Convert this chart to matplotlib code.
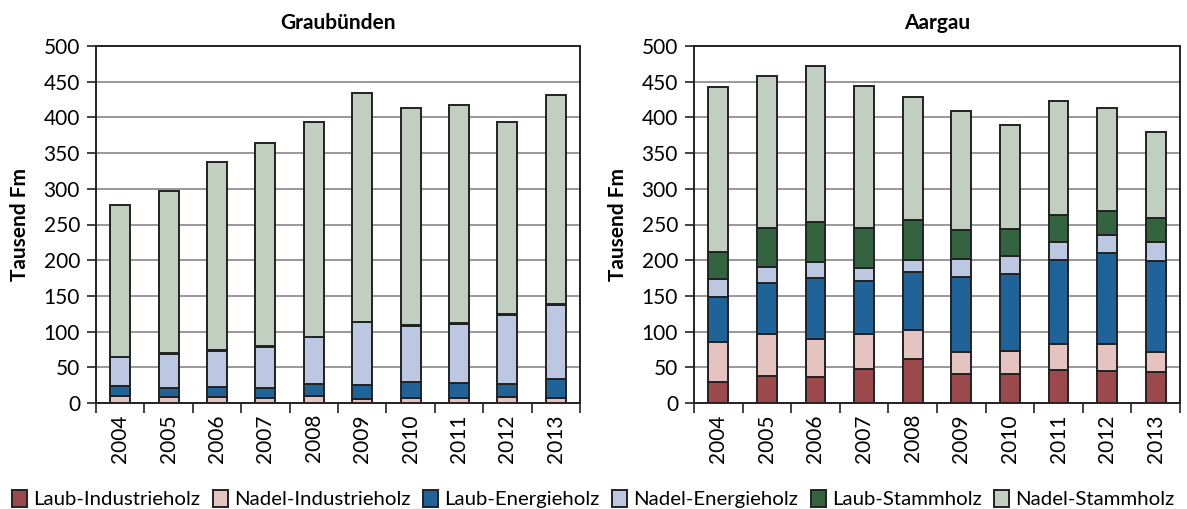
import numpy as np
import matplotlib.pyplot as plt

plt.rcParams['font.family'] = ['Lato', 'DejaVu Sans']

years = ["2004", "2005", "2006", "2007", "2008", "2009", "2010", "2011", "2012", "2013"]
series = ["Laub-Industrieholz", "Nadel-Industrieholz", "Laub-Energieholz",
          "Nadel-Energieholz", "Laub-Stammholz", "Nadel-Stammholz"]
colors = ["#9c494c", "#e4c3c0", "#1f6399", "#bcc8e1", "#33633f", "#c1cfc1"]

# Graubünden (Tausend Fm)
gr_li = [0, 0, 0, 0, 0, 0, 0, 0, 0, 0]
gr_ni = [10, 9, 9, 7, 10, 6, 7, 7, 8, 7]
gr_le = [14, 12, 14, 14, 17, 19, 22, 21, 19, 26]
gr_ne = [40, 48, 50, 58, 65, 88, 79, 83, 96, 104]
gr_ls = [1, 1, 1, 1, 1, 1, 1, 1, 1, 1]
gr_ns = [212, 227, 264, 284, 300, 320, 304, 305, 270, 294]

# Aargau (Tausend Fm)
ag_li = [29, 38, 37, 48, 62, 40, 41, 46, 45, 44]
ag_ni = [56, 59, 52, 49, 40, 32, 32, 36, 38, 28]
ag_le = [63, 71, 86, 74, 82, 105, 108, 118, 127, 127]
ag_ne = [26, 22, 23, 18, 16, 24, 25, 25, 25, 27]
ag_ls = [38, 55, 56, 56, 57, 41, 37, 39, 34, 33]
ag_ns = [230, 213, 218, 199, 171, 167, 146, 159, 144, 120]

fig = plt.figure(figsize=(11.87, 5.09), dpi=100)
ax1 = fig.add_axes([96 / 1187, 1 - 403 / 509, 484 / 1187, 357 / 509])
ax2 = fig.add_axes([694 / 1187, 1 - 403 / 509, 486 / 1187, 357 / 509])

def draw(ax, title, data):
    x = np.arange(len(years))
    bottom = np.zeros(len(years))
    handles = []
    for vals, name, col in zip(data, series, colors):
        h = ax.bar(x, vals, 0.41, bottom=bottom, color=col, edgecolor="#222222",
                   linewidth=1.4, label=name, zorder=3)
        bottom += np.array(vals)
        handles.append(h)
    ax.set_xlim(-0.5, len(years) - 0.5)
    ax.set_ylim(0, 500)
    ax.set_yticks(range(0, 501, 50))
    ax.yaxis.grid(True, color="#888888", linewidth=1.2, zorder=0)
    ax.set_axisbelow(True)
    ax.set_xticks(x)
    ax.set_xticklabels(years, rotation=90, fontsize=15)
    ax.set_xticks(np.arange(-0.5, len(years), 1), minor=True)
    ax.tick_params(axis="x", which="major", length=0, pad=8)
    ax.tick_params(axis="x", which="minor", length=7, width=1.2, color="#222222")
    ax.tick_params(axis="y", length=6.5, width=1.2, color="#222222", labelsize=15, pad=5)
    for s in ax.spines.values():
        s.set_color("#222222")
        s.set_linewidth(1.4)
    ax.set_ylabel("Tausend Fm", fontsize=15, fontweight="bold", labelpad=10)
    ax.set_title(title, fontsize=15, fontweight="bold", pad=12)
    return handles

handles = draw(ax1, "Graubünden", [gr_li, gr_ni, gr_le, gr_ne, gr_ls, gr_ns])
draw(ax2, "Aargau", [ag_li, ag_ni, ag_le, ag_ne, ag_ls, ag_ns])

fig.legend(handles, series, loc="lower center", ncol=6, frameon=False,
           fontsize=14.7, bbox_to_anchor=(0.5, -0.035), handlelength=0.75,
           handleheight=0.95, handletextpad=0.3, columnspacing=0.6)

fig.savefig("out.png", dpi=100)
